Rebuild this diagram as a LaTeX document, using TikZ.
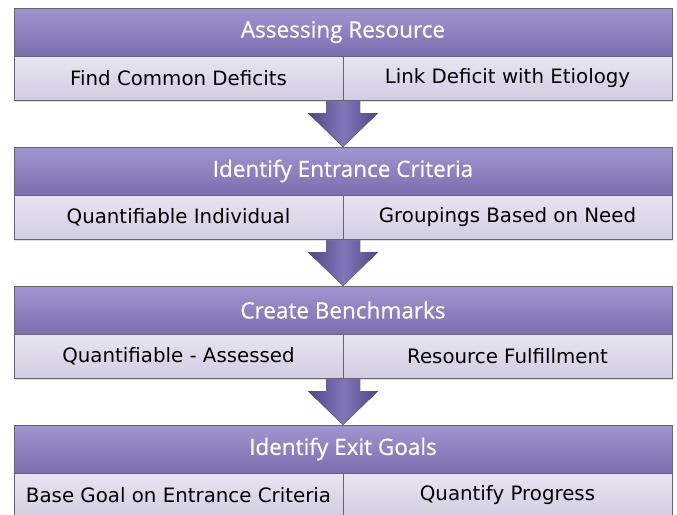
\documentclass[tikz,border=0pt]{standalone}
\usepackage{fontspec}
\setmainfont{DejaVu Sans}
\newfontfamily\headfont[FakeBold=0.6]{Open Sans}
\usetikzlibrary{positioning,calc,shadows,backgrounds}

\definecolor{headtop}{HTML}{A195D0}
\definecolor{headbot}{HTML}{7C6EAF}
\definecolor{celltop}{HTML}{E7E4F1}
\definecolor{cellbot}{HTML}{D2CDE2}
\definecolor{arrowdark}{HTML}{4F4688}
\definecolor{arrowlight}{HTML}{8076B8}
\definecolor{edgegray}{HTML}{66646E}

\begin{document}
\begin{tikzpicture}[x=1pt,y=1pt,node distance=91pt,
  head/.style={rectangle,draw=edgegray,line width=0.8pt,top color=headtop,bottom color=headbot,
    minimum width=658pt,minimum height=48pt,inner sep=0pt,outer sep=0pt,
    drop shadow={shadow xshift=1pt,shadow yshift=-1.5pt,opacity=0.25},
    text=white,font=\headfont\fontsize{22.5}{26}\selectfont},
  cell/.style={rectangle,draw=edgegray,line width=0.8pt,top color=celltop,bottom color=cellbot,
    minimum width=329pt,minimum height=44pt,inner sep=0pt,outer sep=0pt,
    drop shadow={shadow xshift=1pt,shadow yshift=-1.5pt,opacity=0.25},
    text=black,font=\fontsize{19.8}{23}\selectfont},
  downarrow/.style={draw=none,left color=arrowdark,right color=arrowdark,middle color=arrowlight}]

 \useasboundingbox (0,0) rectangle (677,-514);
 \clip (0,0) rectangle (677,-514);

 \node[head] (h1) at (343,-32) {Assessing Resource};
 \node[cell,anchor=north east] (c1a) at (h1.south) {Find Common Deficits};
 \node[cell,anchor=north west] (c1b) at (h1.south) {Link Deficit with Etiology};

 \node[head] (h2) [below=of h1] {Identify Entrance Criteria};
 \node[cell,anchor=north east] (c2a) at (h2.south) {Quantifiable Individual};
 \node[cell,anchor=north west] (c2b) at (h2.south) {Groupings Based on Need};

 \node[head] (h3) [below=of h2] {Create Benchmarks};
 \node[cell,anchor=north east] (c3a) at (h3.south) {Quantifiable - Assessed};
 \node[cell,anchor=north west] (c3b) at (h3.south) {Resource Fulfillment};

 \node[head] (h4) [below=of h3] {Identify Exit Goals};
 \node[cell,anchor=north east] (c4a) at (h4.south) {Base Goal on Entrance Criteria};
 \node[cell,anchor=north west] (c4b) at (h4.south) {Quantify Progress};

 % block arrows between the steps
 \begin{scope}[on background layer]
 \foreach \a/\b in {c1a/h2,c2a/h3,c3a/h4}
   \fill[downarrow] ($(\a.south east)+(-17,2)$) -- ++(0,-15) -- ++(-18,0) -- (\b.north)
     -- ($(\a.south east)+(35,-13)$) -- ++(-18,0) -- ++(0,15) -- cycle;
 \end{scope}

\end{tikzpicture}
\end{document}
